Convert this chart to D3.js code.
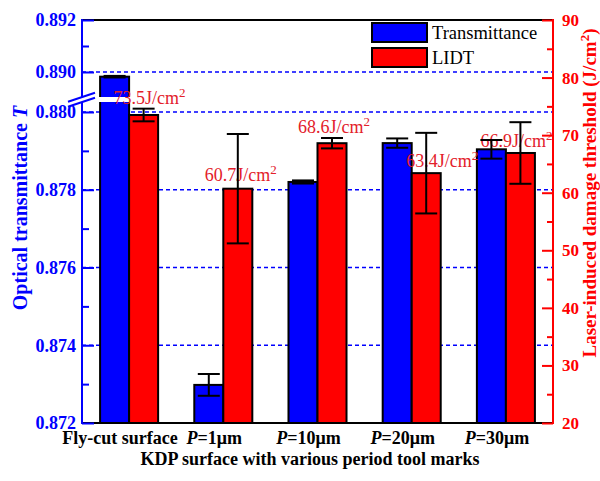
<!DOCTYPE html>
<html>
<head>
<meta charset="utf-8">
<script src="https://cdn.jsdelivr.net/npm/d3@7/dist/d3.min.js"></script>
<style>
  body { margin: 0; background: #fff; }
  svg { display: block; }
  text { font-family: "Liberation Serif", "Times New Roman", serif; }
</style>
</head>
<body>
<svg id="chart" width="600" height="481"></svg>
<script>
// Sample groups along the x axis
const categories = ["Fly-cut surface", "P=1μm", "P=10μm", "P=20μm", "P=30μm"];
// Optical transmittance T (left axis) with error half-widths
const transmittance = [0.88982, 0.87298, 0.87820, 0.87920, 0.87904];
const transmittanceErr = [0.00003, 0.00028, 0.00004, 0.00012, 0.00024];
// Laser-induced damage threshold in J/cm² (right axis) with error half-widths
const lidt = [73.5, 60.7, 68.6, 63.4, 66.9];
const lidtErr = [1.1, 9.5, 0.9, 7.0, 5.35];
// Tick values
const leftTicksLower = [0.872, 0.874, 0.876, 0.878, 0.880];
const leftMinorLower = [0.873, 0.875, 0.877, 0.879];
const leftTicksUpper = [0.890, 0.892];
const leftMinorUpper = [0.891];
const gridValues = [0.874, 0.876, 0.878, 0.880, 0.890];
const rightTicks = [20, 30, 40, 50, 60, 70, 80, 90];
const rightMinor = [25, 35, 45, 55, 65, 75, 85];
const seriesNames = ["Transmittance", "LIDT"];

// Layout
const plotL = 82, plotR = 553, plotT = 20, plotB = 423;
const gapTop = 97, gapBottom = 102;       // axis break band
const BLUE = "#0000ff", RED = "#ff0000", LABEL_RED = "#e3202a";
// value-label nudges (dx from red bar centre, dy from bar top)
const labelNudge = [[6, -11], [3, -8], [2, -10], [16, -6], [-4, -6]];

const svg = d3.select("#chart");

const x0 = d3.scaleBand().domain(categories).range([plotL, plotR])
  .paddingInner(0.384).paddingOuter(0.192);
const x1 = d3.scaleBand().domain(seriesNames).range([0, x0.bandwidth()]);

const yLow = d3.scaleLinear().domain([0.872, 0.880]).range([plotB, 112]);
const yUp = d3.scaleLinear().domain([0.890, 0.892]).range([72, plotT]);
const yT = v => (v > 0.885 ? yUp(v) : yLow(v));
const yR = d3.scaleLinear().domain([20, 90]).range([plotB, plotT]);

// dashed grid lines
svg.append("g").selectAll("line").data(gridValues).join("line")
  .attr("x1", plotL).attr("x2", plotR)
  .attr("y1", d => yT(d)).attr("y2", d => yT(d))
  .attr("stroke", BLUE).attr("stroke-width", 1.3).attr("stroke-dasharray", "4,3");

// bars
const groups = svg.append("g").selectAll("g").data(categories).join("g")
  .attr("transform", d => `translate(${x0(d)},0)`);

groups.append("rect")
  .attr("x", x1("Transmittance")).attr("width", x1.bandwidth())
  .attr("y", (d, i) => yT(transmittance[i]))
  .attr("height", (d, i) => plotB - yT(transmittance[i]))
  .attr("fill", BLUE).attr("stroke", "#000").attr("stroke-width", 2);

groups.append("rect")
  .attr("x", x1("LIDT")).attr("width", x1.bandwidth())
  .attr("y", (d, i) => yR(lidt[i]))
  .attr("height", (d, i) => plotB - yR(lidt[i]))
  .attr("fill", RED).attr("stroke", "#000").attr("stroke-width", 2);

// white band through any bar that crosses the axis break
categories.forEach((c, i) => {
  if (transmittance[i] > 0.885) {
    svg.append("rect")
      .attr("x", x0(c) + x1("Transmittance") - 2).attr("width", x1.bandwidth() + 4)
      .attr("y", gapTop).attr("height", gapBottom - gapTop).attr("fill", "#fff");
  }
});

// value labels
const vlab = svg.append("g").selectAll("text").data(categories).join("text")
  .attr("x", (d, i) => x0(d) + x1("LIDT") + x1.bandwidth() / 2 + labelNudge[i][0])
  .attr("y", (d, i) => yR(lidt[i]) + labelNudge[i][1])
  .attr("text-anchor", "middle").attr("fill", LABEL_RED).attr("font-size", 18);
vlab.append("tspan").text((d, i) => `${lidt[i].toFixed(1)}J/cm`);
vlab.append("tspan").attr("dy", -7).attr("font-size", 13).text("2");

// error bars
const cap = 11;
function errorBar(cx, yLo, yHi) {
  const g = svg.append("g").attr("stroke", "#000").attr("stroke-width", 2);
  g.append("line").attr("x1", cx).attr("x2", cx).attr("y1", yLo).attr("y2", yHi);
  g.append("line").attr("x1", cx - cap).attr("x2", cx + cap).attr("y1", yLo).attr("y2", yLo);
  g.append("line").attr("x1", cx - cap).attr("x2", cx + cap).attr("y1", yHi).attr("y2", yHi);
}
categories.forEach((c, i) => {
  const cb = x0(c) + x1("Transmittance") + x1.bandwidth() / 2;
  errorBar(cb, yT(transmittance[i] - transmittanceErr[i]), yT(transmittance[i] + transmittanceErr[i]));
  const cr = x0(c) + x1("LIDT") + x1.bandwidth() / 2;
  errorBar(cr, yR(lidt[i] - lidtErr[i]), yR(lidt[i] + lidtErr[i]));
});

// frame: top and bottom
svg.append("line").attr("x1", plotL).attr("x2", plotR).attr("y1", plotT).attr("y2", plotT)
  .attr("stroke", "#000").attr("stroke-width", 2);
svg.append("line").attr("x1", plotL).attr("x2", plotR).attr("y1", plotB).attr("y2", plotB)
  .attr("stroke", "#000").attr("stroke-width", 2);

// left axis (broken)
const fmt3 = d3.format(".3f");
function styleLeft(g) {
  g.select(".domain").remove();
  g.selectAll("line").attr("stroke", BLUE).attr("stroke-width", 2);
  g.selectAll("text").attr("fill", BLUE).attr("font-weight", "bold").attr("font-size", 18)
    .attr("font-family", '"Liberation Serif", serif');
}
svg.append("g").attr("transform", `translate(${plotL},0)`)
  .call(d3.axisLeft(yLow).tickValues(leftTicksLower).tickFormat(fmt3).tickSizeInner(-12).tickSizeOuter(0).tickPadding(6))
  .call(styleLeft);
svg.append("g").attr("transform", `translate(${plotL},0)`)
  .call(d3.axisLeft(yLow).tickValues(leftMinorLower).tickFormat("").tickSizeInner(-7).tickSizeOuter(0))
  .call(styleLeft);
svg.append("g").attr("transform", `translate(${plotL},0)`)
  .call(d3.axisLeft(yUp).tickValues(leftTicksUpper).tickFormat(fmt3).tickSizeInner(-12).tickSizeOuter(0).tickPadding(6))
  .call(styleLeft);
svg.append("g").attr("transform", `translate(${plotL},0)`)
  .call(d3.axisLeft(yUp).tickValues(leftMinorUpper).tickFormat("").tickSizeInner(-7).tickSizeOuter(0))
  .call(styleLeft);
svg.append("line").attr("x1", plotL).attr("x2", plotL).attr("y1", plotT - 1).attr("y2", gapTop)
  .attr("stroke", BLUE).attr("stroke-width", 2);
svg.append("line").attr("x1", plotL).attr("x2", plotL).attr("y1", gapBottom).attr("y2", plotB + 1)
  .attr("stroke", BLUE).attr("stroke-width", 2);
// break marks
[gapTop, gapBottom].forEach(yb => {
  svg.append("line")
    .attr("x1", plotL - 14).attr("y1", yb + 4.7)
    .attr("x2", plotL + 13).attr("y2", yb - 4.3)
    .attr("stroke", BLUE).attr("stroke-width", 2);
});

// right axis
function styleRight(g) {
  g.select(".domain").remove();
  g.selectAll("line").attr("stroke", RED).attr("stroke-width", 2);
  g.selectAll("text").attr("fill", RED).attr("font-weight", "bold").attr("font-size", 17)
    .attr("font-family", '"Liberation Serif", serif');
}
svg.append("g").attr("transform", `translate(${plotR},0)`)
  .call(d3.axisRight(yR).tickValues(rightTicks).tickSizeInner(-11).tickSizeOuter(0).tickPadding(9))
  .call(styleRight);
svg.append("g").attr("transform", `translate(${plotR},0)`)
  .call(d3.axisRight(yR).tickValues(rightMinor).tickFormat("").tickSizeInner(-6).tickSizeOuter(0))
  .call(styleRight);
svg.append("line").attr("x1", plotR).attr("x2", plotR).attr("y1", plotT - 1).attr("y2", plotB + 1)
  .attr("stroke", RED).attr("stroke-width", 2);

// bottom category labels
const xAxisG = svg.append("g").attr("transform", `translate(0,${plotB})`)
  .call(d3.axisBottom(x0).tickSize(0).tickPadding(0));
xAxisG.select(".domain").remove();
xAxisG.selectAll("text")
  .attr("y", 21).attr("dy", 0).attr("x", -9)
  .attr("font-size", 18).attr("font-weight", "bold").attr("fill", "#000")
  .attr("font-family", '"Liberation Serif", serif')
  .each(function (d) {
    const t = d3.select(this);
    t.text(null);
    if (d.startsWith("P=")) {
      t.append("tspan").attr("font-style", "italic").text("P");
      t.append("tspan").text(d.slice(1));
    } else {
      t.append("tspan").text(d);
    }
  });

// axis titles
svg.append("text").attr("x", 310).attr("y", 465).attr("text-anchor", "middle")
  .attr("font-size", 18).attr("font-weight", "bold").attr("fill", "#000")
  .text("KDP surface with various period tool marks");

const lt = svg.append("text").attr("transform", "translate(27,208) rotate(-90)")
  .attr("text-anchor", "middle").attr("font-size", 20).attr("font-weight", "bold").attr("fill", BLUE);
lt.append("tspan").text("Optical transmittance ");
lt.append("tspan").attr("font-style", "italic").text("T");

const rt = svg.append("text").attr("transform", "translate(596,193) rotate(-90)")
  .attr("text-anchor", "middle").attr("font-size", 19).attr("font-weight", "bold").attr("fill", RED);
rt.append("tspan").text("Laser-induced damage threshold (J/cm");
rt.append("tspan").attr("dy", -7).attr("font-size", 13).text("2");
rt.append("tspan").attr("dy", 7).text(")");

// legend
const legend = svg.append("g").attr("transform", "translate(372,23)");
seriesNames.forEach((name, i) => {
  const row = legend.append("g").attr("transform", `translate(0,${i * 25})`);
  row.append("rect").attr("x", 0).attr("y", 0).attr("width", 55).attr("height", 19)
    .attr("fill", i === 0 ? BLUE : RED).attr("stroke", "#000").attr("stroke-width", 2);
  row.append("text").attr("x", 60).attr("y", 16).attr("font-size", 18.5).attr("fill", "#000").text(name);
});
</script>
</body>
</html>
